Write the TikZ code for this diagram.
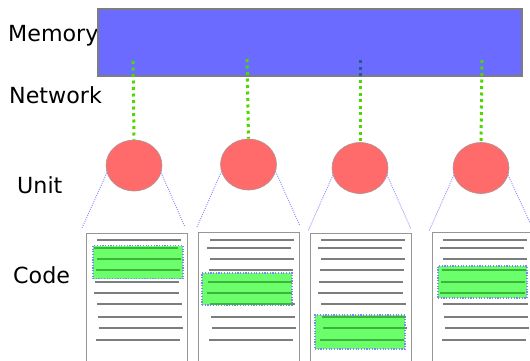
\documentclass[tikz,border=0pt]{standalone}
\usepackage{fontspec}
\setmainfont{DejaVu Sans}
\usetikzlibrary{shapes.geometric}
\definecolor{memfill}{RGB}{107,107,255}
\definecolor{memdraw}{RGB}{125,125,125}
\definecolor{unitfill}{RGB}{255,107,107}
\definecolor{unitdraw}{RGB}{170,150,150}
\definecolor{netgreen}{RGB}{80,215,0}
\definecolor{netdark}{RGB}{40,90,130}
\definecolor{fanblue}{RGB}{140,140,255}
\definecolor{pagedraw}{RGB}{150,150,150}
\definecolor{codegray}{RGB}{125,125,125}
\definecolor{hlfill}{RGB}{108,255,108}
\definecolor{hlline}{RGB}{60,180,60}
\definecolor{hldraw}{RGB}{130,130,255}
\tikzset{
  lbl/.style={anchor=base west, inner sep=0pt, font=\fontsize{22.2}{26}\selectfont},
  membox/.style={draw=memdraw, line width=1.5pt, fill=memfill, minimum width=424pt, minimum height=67pt, inner sep=0pt},
  unit/.style={ellipse, draw=unitdraw, line width=0.6pt, fill=unitfill, minimum width=56pt, minimum height=51pt, inner sep=0pt},
  net/.style={draw=netgreen, line width=3pt, dash pattern=on 3pt off 3.5pt},
  netd/.style={draw=netdark, line width=3pt, dash pattern=on 3pt off 3.5pt},
  fan/.style={draw=fanblue, line width=0.9pt, dash pattern=on 1pt off 1.2pt},
  page/.style={draw=pagedraw, line width=1pt, fill=white, minimum width=101pt, minimum height=150pt, inner sep=0pt},
  hl/.style={draw=hldraw, line width=1.2pt, dash pattern=on 1.2pt off 1.5pt, fill=hlfill, inner sep=0pt},
  codeline/.style={draw=codegray, line width=1.2pt},
}
\begin{document}
\begin{tikzpicture}[x=1pt,y=-1pt]
\useasboundingbox (0,0) rectangle (530,360);
\clip (0,0) rectangle (530,360);

% labels
\node[lbl] (lmem) at (8,41) {Memory};
\node[lbl] (lnet) at (9,103) {Network};
\node[lbl] (lunit) at (17,193) {Unit};
\node[lbl] (lcode) at (13,283) {Code};

% memory
\node[membox] (mem) at (310,42.5) {};

% units
\node[unit] (u1) at (134,165.5) {};
\node[unit] (u2) at (248.5,164.5) {};
\node[unit] (u3) at (360,168) {};
\node[unit] (u4) at (481,168) {};

% network coordinates
\coordinate (m1) at (133,61);
\coordinate (m2) at (247,59);
\coordinate (m3) at (360,60);
\coordinate (m3b) at (360,79.5);
\coordinate (m4) at (482,60);
\draw[net] (m1) -- (u1.north);
\draw[net] (m2) -- (u2.north);
\draw[netd] (m3) -- (360,77);
\draw[net] (m3b) -- (u3.north);
\draw[net] (m4) -- (u4.north);

% fan coordinates
\coordinate (f1l) at (82,228);  \coordinate (f1r) at (185,227);
\coordinate (f2l) at (197,227); \coordinate (f2r) at (300,226);
\coordinate (f3l) at (308,231); \coordinate (f3r) at (411,229);
\coordinate (f4l) at (429,231); \coordinate (f4r) at (532,227);
\draw[fan] (u1.195) -- (f1l); \draw[fan] (u1.345) -- (f1r);
\draw[fan] (u2.195) -- (f2l); \draw[fan] (u2.345) -- (f2r);
\draw[fan] (u3.195) -- (f3l); \draw[fan] (u3.345) -- (f3r);
\draw[fan] (u4.195) -- (f4l); \draw[fan] (u4.345) -- (f4r);

% pages
\node[page] (p1) at (136.5,308) {};
\node[page] (p2) at (249,307) {};
\node[page] (p3) at (360.5,308) {};
\node[page] (p4) at (482.5,307) {};

\def\codelines#1{%
  \foreach \y/\a/\b in {240/11/95, 248/8/92, 259/11/95, 270/10/94, 282/9/93, 293/8/93, 304/11/96, 317/12/96, 328/13/97, 340/10/94}
    {\draw[codeline] (#1+\a,\y) -- (#1+\b,\y);}}
\def\hlcodelines#1{%
  \foreach \y/\a/\b in {240/11/95, 248/8/92, 259/11/95, 270/10/94, 282/9/93, 293/8/93, 304/11/96, 317/12/96, 328/13/97, 340/10/94}
    {\draw[codeline, draw=hlline] (#1+\a,\y) -- (#1+\b,\y);}}

\codelines{86}
\codelines{199}
\codelines{310}
\codelines{432}

% highlighted blocks
\node[hl, minimum width=90pt, minimum height=33pt] (g1) at (138,262) {};
\node[hl, minimum width=90pt, minimum height=32pt] (g2) at (247,289) {};
\node[hl, minimum width=90pt, minimum height=34pt] (g3) at (360,332) {};
\node[hl, minimum width=89pt, minimum height=32pt] (g4) at (482.5,282) {};

\begin{scope}\clip (g1.south west) rectangle (g1.north east); \hlcodelines{86}\end{scope}
\begin{scope}\clip (g2.south west) rectangle (g2.north east); \hlcodelines{199}\end{scope}
\begin{scope}\clip (g3.south west) rectangle (g3.north east); \hlcodelines{310}\end{scope}
\begin{scope}\clip (g4.south west) rectangle (g4.north east); \hlcodelines{432}\end{scope}
\end{tikzpicture}
\end{document}
